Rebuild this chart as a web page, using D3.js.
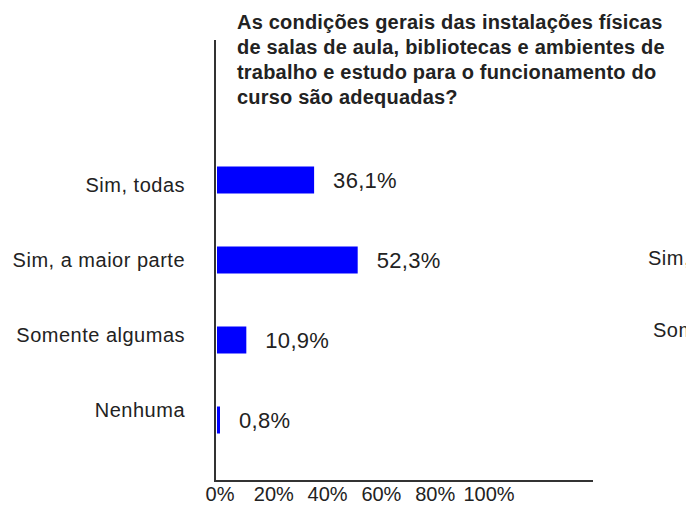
<!DOCTYPE html>
<html>
	<head>
		<meta charset="utf-8">
		<title>Instalações físicas</title>
		<style type="text/css">
			body {
				margin: 0px;
				background-color: #fff;
			}
			text {
				font-family: "Liberation Sans", Arial, sans-serif;
				fill: #222;
			}
		</style>
		<script src="https://d3js.org/d3.v7.min.js" charset="utf-8"></script>
	</head>
	<body>
		<script type="text/javascript">
			var titleLines = [
				"As condições gerais das instalações físicas",
				"de salas de aula, bibliotecas e ambientes de",
				"trabalho e estudo para o funcionamento do",
				"curso são adequadas?"
			];
			var categories = ["Sim, todas", "Sim, a maior parte", "Somente algumas", "Nenhuma"];
			var values = [36.1, 52.3, 10.9, 0.8];
			var valueLabels = ["36,1%", "52,3%", "10,9%", "0,8%"];
			var ticks = [0, 20, 40, 60, 80, 100];
			var tickLabels = ["0%", "20%", "40%", "60%", "80%", "100%"];
			// the next chart on the page, cut off at the right edge
			var nextCategories = ["Sim, a maior parte", "Somente algumas"];

			var width = 686, height = 508;
			var svg = d3.select("body").append("svg")
				.attr("width", width)
				.attr("height", height);

			var x = d3.scaleLinear().domain([0, 100]).range([217, 486]);
			var y = d3.scaleBand().domain(categories).range([140, 460])
				.paddingInner(0.6625).paddingOuter(0.33125);
			var yLabel = d3.scalePoint().domain(categories).range([185, 410]);
			var yNext = d3.scalePoint().domain(nextCategories).range([258, 330]);

			// title
			svg.append("text")
				.attr("x", 237)
				.attr("y", 29)
				.style("font-weight", "bold")
				.style("font-size", "20px")
				.style("letter-spacing", "0.2px")
				.selectAll("tspan")
				.data(titleLines)
				.enter()
					.append("tspan")
					.attr("x", 237)
					.attr("dy", function(d, i) { return i === 0 ? 0 : 25; })
					.text(function(d) { return d; });

			// bars
			svg.selectAll(".bar")
				.data(values)
				.enter()
					.append("rect")
					.attr("class", "bar")
					.attr("x", x(0))
					.attr("y", function(d, i) { return y(categories[i]); })
					.attr("width", function(d) { return Math.max(x(d) - x(0), 3); })
					.attr("height", y.bandwidth())
					.style("fill", "#0000ff");

			svg.selectAll(".value")
				.data(values)
				.enter()
					.append("text")
					.attr("class", "value")
					.attr("x", function(d) { return Math.max(x(d), x(0) + 3) + 19; })
					.attr("y", function(d, i) { return y(categories[i]) + y.bandwidth() / 2; })
					.attr("dy", "0.35em")
					.style("font-size", "22px")
					.style("letter-spacing", "0.3px")
					.text(function(d, i) { return valueLabels[i]; });

			svg.selectAll(".cat")
				.data(categories)
				.enter()
					.append("text")
					.attr("class", "cat")
					.attr("x", 185)
					.attr("y", function(d) { return yLabel(d); })
					.attr("dy", "0.35em")
					.attr("text-anchor", "end")
					.style("font-size", "20px")
					.style("letter-spacing", "0.5px")
					.text(function(d) { return d; });

			// axes lines
			svg.append("line")
				.attr("x1", 215).attr("x2", 215)
				.attr("y1", 40).attr("y2", 481)
				.style("stroke", "#333")
				.style("stroke-width", 2);
			svg.append("line")
				.attr("x1", 214).attr("x2", 593)
				.attr("y1", 481).attr("y2", 481)
				.style("stroke", "#333")
				.style("stroke-width", 2);

			svg.selectAll(".tick")
				.data(ticks)
				.enter()
					.append("text")
					.attr("class", "tick")
					.attr("x", function(d) { return x(d) + 3; })
					.attr("y", 501)
					.attr("text-anchor", "middle")
					.style("font-size", "20px")
					.text(function(d, i) { return tickLabels[i]; });

			svg.selectAll(".next")
				.data(nextCategories)
				.enter()
					.append("text")
					.attr("class", "next")
					.attr("x", function(d, i) { return i === 0 ? 648 : 653; })
					.attr("y", function(d) { return yNext(d); })
					.attr("dy", "0.35em")
					.style("font-size", "20px")
					.style("letter-spacing", "0.5px")
					.text(function(d) { return d; });
		</script>
	</body>
</html>
